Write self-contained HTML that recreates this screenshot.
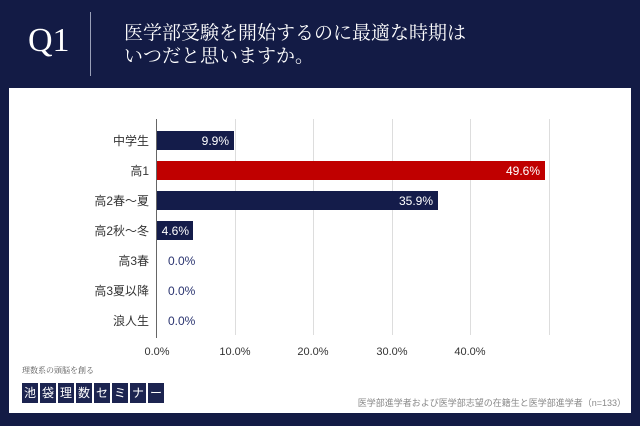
<!DOCTYPE html>
<html><head><meta charset="utf-8"><style>
body{margin:0;width:640px;height:426px;background:#131b45;overflow:hidden;position:relative;font-family:"Liberation Sans","Noto Sans CJK JP",sans-serif}
.a{position:absolute}
.b{width:16px;height:20px;background:#1c2450;color:#fff;font-size:12px;line-height:20px;text-align:center}
</style></head><body>
<div class="a" style="left:28px;top:22px;font-family:'Liberation Serif',serif;color:#fff;font-size:34px">Q1</div>
<div class="a" style="left:90px;top:12px;width:1px;height:64px;background:#9aa0b8"></div>
<div class="a" style="left:124px;top:20px;color:#fff;font-family:'Noto Serif CJK SC','Noto Sans CJK JP',serif;font-size:19px;line-height:23px">医学部受験を開始するのに最適な時期は<br>いつだと思いますか。</div>
<div class="a" style="left:9px;top:88px;width:622px;height:325px;background:#fff"></div>
<svg class="a" style="left:0;top:0" width="640" height="426">
<g stroke="#ddd" stroke-width="1">
<line x1="235.5" y1="119" x2="235.5" y2="335"/><line x1="313.5" y1="119" x2="313.5" y2="335"/>
<line x1="392.5" y1="119" x2="392.5" y2="335"/><line x1="470.5" y1="119" x2="470.5" y2="335"/>
<line x1="549.5" y1="119" x2="549.5" y2="335"/></g>
<line x1="156.5" y1="119" x2="156.5" y2="338" stroke="#666"/>
<rect x="157" y="131" width="77" height="19" fill="#141c4a"/>
<rect x="157" y="161" width="388" height="19" fill="#c00000"/>
<rect x="157" y="191" width="281" height="19" fill="#141c4a"/>
<rect x="157" y="221" width="36" height="19" fill="#141c4a"/>
<g font-size="12" fill="#fff" text-anchor="end">
<text x="229" y="145">9.9%</text><text x="540" y="175">49.6%</text><text x="433" y="205">35.9%</text><text x="189" y="235">4.6%</text></g>
<g font-size="12" fill="#2a3470"><text x="168" y="265">0.0%</text><text x="168" y="295">0.0%</text><text x="168" y="325">0.0%</text></g>
<g font-size="12" fill="#333" text-anchor="end">
<text x="149" y="145">中学生</text><text x="149" y="175">高1</text><text x="149" y="205">高2春〜夏</text><text x="149" y="235">高2秋〜冬</text>
<text x="149" y="265">高3春</text><text x="149" y="295">高3夏以降</text><text x="149" y="325">浪人生</text></g>
<g font-size="11" fill="#333" text-anchor="middle">
<text x="157" y="355">0.0%</text><text x="235" y="355">10.0%</text><text x="313" y="355">20.0%</text><text x="392" y="355">30.0%</text><text x="470" y="355">40.0%</text></g>
</svg>
<div class="a" style="left:22px;top:365px;font-size:8px;color:#555;font-family:'Noto Serif CJK SC',serif">理数系の頭脳を創る</div>
<div class="a" style="left:22px;top:383px;display:flex;gap:2px">
<span class="b">池</span><span class="b">袋</span><span class="b">理</span><span class="b">数</span><span class="b">セ</span><span class="b">ミ</span><span class="b">ナ</span><span class="b">ー</span></div>
<div class="a" style="right:14px;top:396px;font-size:9px;color:#888">医学部進学者および医学部志望の在籍生と医学部進学者（n=133）</div>
</body></html>
